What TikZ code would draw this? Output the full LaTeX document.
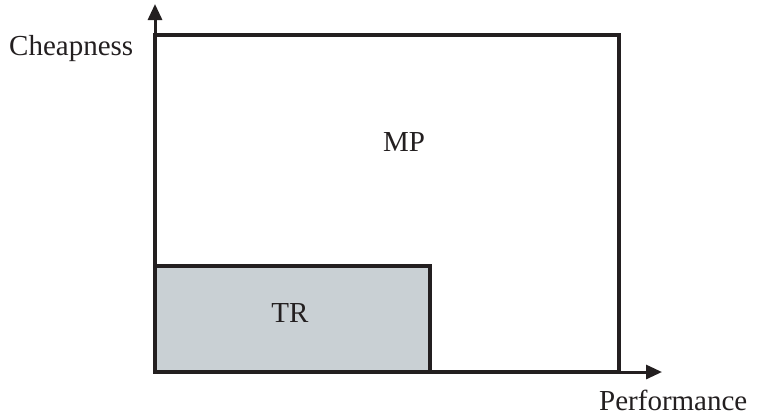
\documentclass[tikz,border=0pt]{standalone}
\usepackage{fontspec}
\setmainfont{Liberation Serif}
\usetikzlibrary{arrows.meta}
\definecolor{ink}{HTML}{231F20}
\definecolor{regionfill}{HTML}{C9D0D4}
\begin{document}
\begin{tikzpicture}[x=1pt,y=-1pt,
  axis/.style={draw=ink,line width=3pt,-{Triangle[length=16pt,width=14pt]}},
  region/.style={draw=ink,line width=3.2pt},
  lbl/.style={font=\fontsize{29}{34}\selectfont,text=ink,inner sep=0pt}]
\useasboundingbox (0,0) rectangle (757,416);
% axes
\coordinate (origin) at (155,372);
\coordinate (ytip) at (155,4);
\coordinate (xtip) at (662,372);
\draw[axis] (origin) -- (ytip);
\draw[axis] (origin) -- (xtip);
% regions
\draw[region] (155,35) rectangle (619,372);
\draw[region,fill=regionfill] (155,266) rectangle (430,372);
% labels
\node[lbl] (mp) at (404,142) {MP};
\node[lbl] (tr) at (290,313) {TR};
\node[lbl,anchor=west] (yl) at (9,49) {Cheapness};
\node[lbl,anchor=west] (xl) at (599,400) {Performance};
\end{tikzpicture}
\end{document}
